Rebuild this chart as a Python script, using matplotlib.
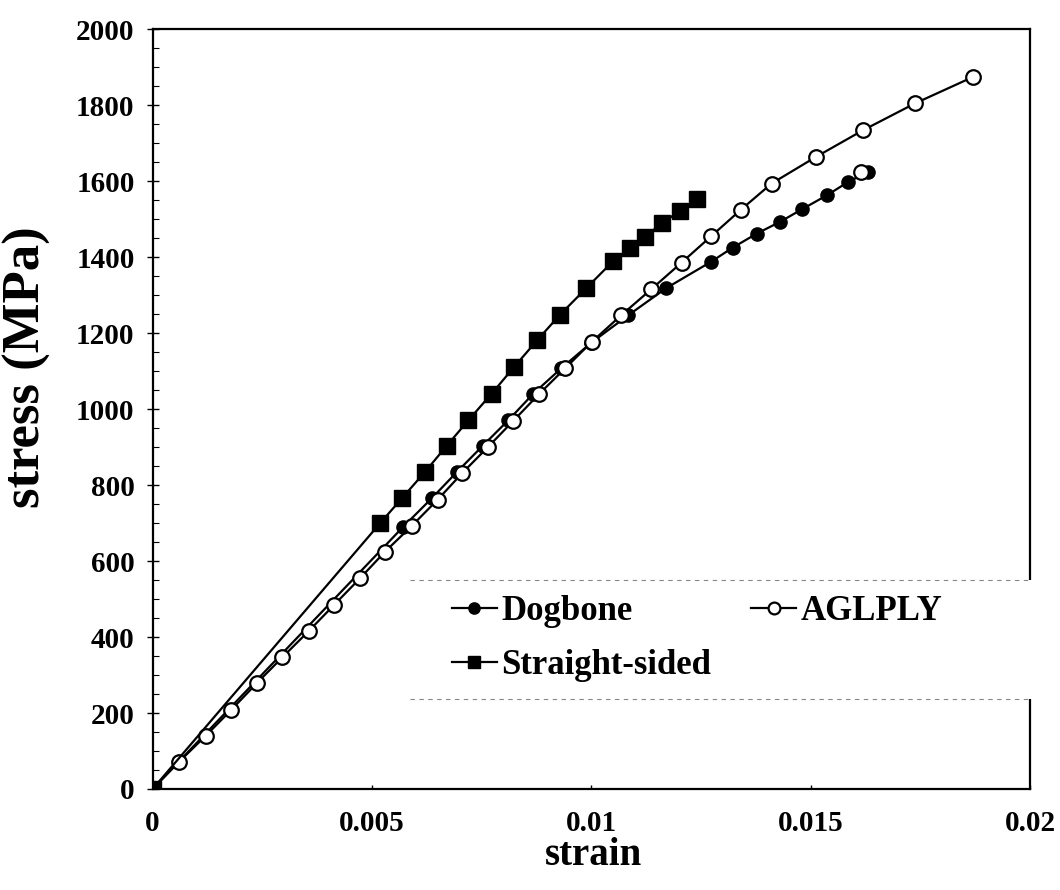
import matplotlib
matplotlib.use("Agg")
import matplotlib.pyplot as plt
from matplotlib.patches import Rectangle
from matplotlib.ticker import MultipleLocator

# measured stress-strain curves
dogbone_strain = [0.0, 0.00571, 0.00636, 0.00694, 0.00752, 0.00811, 0.00868, 0.00931,
                  0.01000, 0.01084, 0.01170, 0.01273, 0.01322, 0.01377, 0.01430,
                  0.01480, 0.01537, 0.01584, 0.01631]
dogbone_stress = [0, 690, 765, 835, 903, 971, 1041, 1107,
                  1175, 1247, 1318, 1388, 1425, 1462, 1493,
                  1526, 1563, 1597, 1625]

straight_strain = [0.0, 0.00518, 0.00568, 0.00621, 0.00670, 0.00720, 0.00773, 0.00824,
                   0.00877, 0.00929, 0.00989, 0.01050, 0.01088, 0.01122, 0.01162,
                   0.01202, 0.01241]
straight_stress = [0, 699, 765, 835, 903, 971, 1041, 1111,
                   1182, 1249, 1319, 1390, 1423, 1454, 1490,
                   1522, 1552]

# AGLPLY prediction
agl_strain = [0.0, 0.000606, 0.00121, 0.00179, 0.00237, 0.00296, 0.00356, 0.00414,
              0.00473, 0.00530, 0.00591, 0.00650, 0.00706, 0.00765, 0.00822,
              0.00881, 0.00940, 0.01001, 0.01068, 0.01136, 0.01206, 0.01273,
              0.01341, 0.01411, 0.01512, 0.01619, 0.01738, 0.01871]
agl_stress = [0, 72, 140, 208, 278, 347, 416, 485,
              555, 625, 693, 762, 832, 901, 969,
              1040, 1107, 1177, 1247, 1315, 1386, 1455,
              1525, 1594, 1664, 1734, 1805, 1875]
agl_fail_strain = [0.01614]
agl_fail_stress = [1625]

xticks = [0, 0.005, 0.01, 0.015, 0.02]
xticklabels = ['0', '0.005', '0.01', '0.015', '0.02']
yticks = list(range(0, 2001, 200))

plt.rcParams['font.family'] = ['Liberation Serif', 'DejaVu Serif']
plt.rcParams['font.weight'] = 'bold'

fig = plt.figure(figsize=(10.6, 8.9), dpi=100)
ax = fig.add_axes([0.144, 0.1135, 0.8277, 0.8536])

ax.plot(dogbone_strain, dogbone_stress, '-o', color='black', lw=1.6,
        ms=9.5, mfc='black', mec='black', zorder=2, label='Dogbone')
ax.plot(agl_strain[1:], agl_stress[1:], 'o', color='black', ms=10.5,
        mfc='white', mec='black', mew=1.6, zorder=3)
ax.plot(agl_strain, agl_stress, '-', color='black', lw=1.6, zorder=2.9)
ax.plot(agl_fail_strain, agl_fail_stress, 'o', ms=10.5, mfc='white',
        mec='black', mew=1.6, zorder=3)
ax.plot(straight_strain, straight_stress, '-s', color='black', lw=1.6,
        ms=11, mfc='black', mec='black', zorder=4, label='Straight-sided')

# legend handle for the open-circle curve
agl_handle, = ax.plot([], [], '-o', color='black', lw=1.6, ms=10,
                      mfc='white', mec='black', mew=1.6, label='AGLPLY')

ax.set_xlim(0, 0.02)
ax.set_ylim(0, 2000)
ax.set_xticks(xticks)
ax.set_xticklabels(xticklabels)
ax.set_yticks(yticks)
ax.yaxis.set_minor_locator(MultipleLocator(50))
ax.tick_params(axis='y', which='major', direction='inout', length=8, width=1,
               labelsize=21, pad=9)
ax.tick_params(axis='y', which='minor', direction='in', length=4, width=0.8)
ax.tick_params(axis='x', which='major', direction='in', length=3, width=1,
               labelsize=21, pad=15)
for lab in ax.get_xticklabels() + ax.get_yticklabels():
    lab.set_fontweight('bold')

for sp in ax.spines.values():
    sp.set_linewidth(1.6)

ax.set_xlabel('strain', fontsize=28, fontweight='bold')
ax.set_ylabel('stress (MPa)', fontsize=38, fontweight='bold')
ax.xaxis.set_label_coords(0.502, -0.063)
ax.yaxis.set_label_coords(-0.116, 0.555)

# white box behind the legend, covering part of the right spine
ax.add_patch(Rectangle((0.293, 0.118), 0.72, 0.157, transform=ax.transAxes,
                       facecolor='white', edgecolor='none', zorder=5,
                       clip_on=False))
for yy in (0.118, 0.275):
    ax.plot([0.293, 1.0], [yy, yy], transform=ax.transAxes, color='#888888',
            lw=0.8, ls=(0, (4, 4)), zorder=6, clip_on=False)

handles, labels = ax.get_legend_handles_labels()
order = [labels.index('Dogbone'), labels.index('Straight-sided'),
         labels.index('AGLPLY')]
leg = ax.legend([handles[i] for i in order], [labels[i] for i in order],
                ncol=2, loc='upper left', bbox_to_anchor=(0.341, 0.255),
                frameon=False, borderpad=0, borderaxespad=0,
                handlelength=1.3, handletextpad=0.12, columnspacing=1.15,
                labelspacing=0.6, markerscale=0.85,
                prop={'family': 'Liberation Serif', 'weight': 'bold', 'size': 25})
leg.set_zorder(7)

fig.savefig('out.png', dpi=100)
